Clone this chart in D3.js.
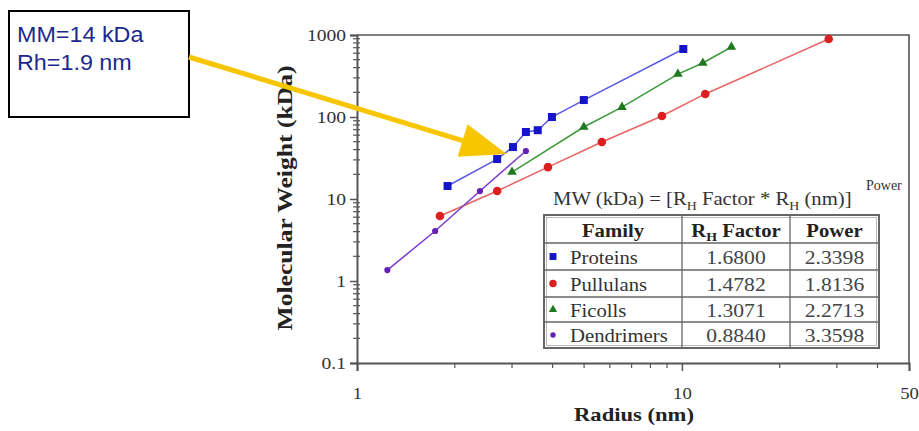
<!DOCTYPE html>
<html><head><meta charset="utf-8">
<script src="https://cdn.jsdelivr.net/npm/d3@7"></script>
<style>html,body{margin:0;padding:0;background:#fff;}svg{display:block;}</style>
</head><body>
<svg id="c" width="919" height="431"></svg>
<script>
// ---- data ----
const proteinsR  = [1.90, 2.70, 3.02, 3.31, 3.60, 3.98, 4.99, 10.1];
const proteinsMW = [14.4, 30.7, 43, 65.6, 69, 100, 161, 675];
const pullulansR  = [1.80, 2.70, 3.87, 5.67, 8.68, 11.8, 28.3];
const pullulansMW = [6.2, 12.5, 24.5, 49.5, 103, 191, 893];
const ficollsR  = [3.0, 4.99, 6.54, 9.72, 11.6, 14.2];
const ficollsMW = [21.3, 75.5, 132, 334, 456, 714];
const dendrimersR  = [1.24, 1.74, 2.39, 3.31];
const dendrimersMW = [1.36, 4.07, 12.5, 38.5];
const families  = ["Proteins", "Pullulans", "Ficolls", "Dendrimers"];
const rhFactors = ["1.6800", "1.4782", "1.3071", "0.8840"];
const powers    = ["2.3398", "1.8136", "2.2713", "3.3598"];
const yTickLabels = [0.1, 1, 10, 100, 1000];
const xTickLabels = [1, 10, 50];
const annotation = ["MM=14 kDa", "Rh=1.9 nm"];
const annotMW = 14, annotR = 1.9;

const svg = d3.select("#c");
const L = 357, R = 909, T = 35, B = 363;
const x = d3.scaleLog().domain([1, 50]).range([L, R]);
const y = d3.scaleLog().domain([0.1, 1000]).range([B, T]);
const axisCol = "#555";
const serif = "'Liberation Serif','Times New Roman',serif";
function stretch(sel, f) {
  sel.each(function () {
    const w = this.getComputedTextLength();
    d3.select(this).attr("textLength", w * f).attr("lengthAdjust", "spacingAndGlyphs");
  });
}

// frame
svg.append("path").attr("d", `M${L},${T}H${R}V${B}`).attr("fill","none")
  .attr("stroke", axisCol).attr("stroke-width", 1.6);

// y axis
const yMinor = [];
for (let e = -1; e < 3; e++) for (let k = 2; k <= 9; k++) yMinor.push(k * Math.pow(10, e));
const gy = svg.append("g").attr("transform", `translate(${L},0)`)
  .call(d3.axisLeft(y).tickValues(yTickLabels).tickFormat(d => d3.format("~g")(d)).tickSize(7).tickPadding(4));
gy.select(".domain").attr("stroke", axisCol).attr("stroke-width", 2);
gy.selectAll(".tick line").attr("stroke", axisCol).attr("stroke-width", 1.5);
gy.selectAll(".tick text").attr("font-family", serif).attr("font-size", 17).attr("fill", "#333").call(stretch, 1.15);
svg.append("g").selectAll("line").data(yMinor).join("line")
  .attr("x1", L - 4).attr("x2", L + 3).attr("y1", d => y(d)).attr("y2", d => y(d))
  .attr("stroke", axisCol).attr("stroke-width", 1.2);

// x axis
const xMinor = [2,3,4,5,6,7,8,9,20,30,40];
const gx = svg.append("g").attr("transform", `translate(0,${B})`)
  .call(d3.axisBottom(x).tickValues(xTickLabels).tickFormat(d => d3.format("~g")(d)).tickSize(8).tickPadding(16));
gx.select(".domain").attr("stroke", axisCol).attr("stroke-width", 2);
gx.selectAll(".tick line").attr("stroke", axisCol).attr("stroke-width", 1.5);
gx.selectAll(".tick text").attr("font-family", serif).attr("font-size", 17).attr("fill", "#333").call(stretch, 1.1);
svg.append("g").selectAll("line").data(xMinor).join("line")
  .attr("x1", d => x(d)).attr("x2", d => x(d)).attr("y1", B).attr("y2", B + 5)
  .attr("stroke", axisCol).attr("stroke-width", 1.2);

// axis titles
svg.append("text").attr("transform", `translate(292,198) rotate(-90)`)
  .attr("text-anchor","middle").attr("font-family", serif).attr("font-weight","bold")
  .attr("font-size", 20).attr("fill","#222").text("Molecular Weight (kDa)").call(stretch, 1.28);
svg.append("text").attr("x", 634).attr("y", 421).attr("text-anchor","middle")
  .attr("font-family", serif).attr("font-weight","bold").attr("font-size", 19)
  .attr("fill","#222").text("Radius (nm)").call(stretch, 1.19);

// series
const series = [
  {r: proteinsR, mw: proteinsMW, line:"#5a5ae6", fill:"#1414c8", sym:d3.symbolSquare, size:64},
  {r: pullulansR, mw: pullulansMW, line:"#e86464", fill:"#dc2020", sym:d3.symbolCircle, size:58},
  {r: ficollsR, mw: ficollsMW, line:"#3c9a3c", fill:"#1e7a1e", sym:d3.symbolTriangle, size:40},
  {r: dendrimersR, mw: dendrimersMW, line:"#7a3ad0", fill:"#6420b4", sym:d3.symbolCircle, size:30}
];
const line = d3.line().x(d => x(d[0])).y(d => y(d[1]));
series.forEach(s => {
  const pts = s.r.map((r, i) => [r, s.mw[i]]);
  svg.append("path").datum(pts).attr("d", line).attr("fill","none")
    .attr("stroke", s.line).attr("stroke-width", 1.5);
});
series.forEach(s => {
  const pts = s.r.map((r, i) => [r, s.mw[i]]);
  svg.append("g").selectAll("path").data(pts).join("path")
    .attr("transform", d => `translate(${x(d[0])},${y(d[1])})`)
    .attr("d", d3.symbol().type(s.sym).size(s.size)).attr("fill", s.fill);
});

// equation
const eq = svg.append("text").attr("x", 553).attr("y", 205).attr("font-family", serif)
  .attr("font-size", 18).attr("fill","#333");
eq.append("tspan").text("MW (kDa) = [R");
eq.append("tspan").attr("font-size", 12).attr("dy", 5).text("H");
eq.append("tspan").attr("dy", -5).text(" Factor * R");
eq.append("tspan").attr("font-size", 12).attr("dy", 5).text("H");
eq.append("tspan").attr("dy", -5).text(" (nm)]");
eq.call(stretch, 1.15);
svg.append("text").attr("x", 866).attr("y", 190).attr("font-family", serif)
  .attr("font-size", 14).attr("fill","#333").text("Power");

// table
const tL = 544, tR = 879, tT = 215, hdrB = 243;
const rowB = [270, 297, 322, 348];
const colX = [tL, 682, 790, tR];
const tg = svg.append("g");
tg.append("rect").attr("x", tL).attr("y", tT).attr("width", tR - tL).attr("height", rowB[3] - tT)
  .attr("fill","#fff").attr("stroke","#666").attr("stroke-width", 2);
tg.append("rect").attr("x", tL+2.5).attr("y", tT+2.5).attr("width", tR - tL - 5).attr("height", rowB[3] - tT - 5)
  .attr("fill","none").attr("stroke","#aaa").attr("stroke-width", 0.8);
[hdrB, ...rowB.slice(0,3)].forEach(yy => tg.append("line").attr("x1", tL).attr("x2", tR)
  .attr("y1", yy).attr("y2", yy).attr("stroke","#666").attr("stroke-width", 1.3));
[colX[1], colX[2]].forEach(xx => tg.append("line").attr("x1", xx).attr("x2", xx)
  .attr("y1", tT).attr("y2", rowB[3]).attr("stroke","#666").attr("stroke-width", 1.3));
const hdr = tg.append("g").attr("font-family", serif).attr("font-weight","bold").attr("font-size", 18).attr("fill","#222");
hdr.append("text").attr("x", (colX[0]+colX[1])/2).attr("y", 237).attr("text-anchor","middle").text("Family");
const h2 = hdr.append("text").attr("x", (colX[1]+colX[2])/2).attr("y", 237).attr("text-anchor","middle");
h2.append("tspan").text("R"); h2.append("tspan").attr("font-size", 12).attr("dy", 4).text("H");
h2.append("tspan").attr("dy", -4).text(" Factor");
hdr.append("text").attr("x", (colX[2]+colX[3])/2).attr("y", 237).attr("text-anchor","middle").text("Power");
hdr.selectAll("text").call(stretch, 1.15);
const rowTop = [hdrB, ...rowB.slice(0,3)];
families.forEach((f, i) => {
  const cy = (rowTop[i] + rowB[i]) / 2;
  const s = series[i];
  tg.append("path").attr("transform", `translate(553,${cy})`)
    .attr("d", d3.symbol().type(s.sym).size(s.size * 0.75)).attr("fill", s.fill);
  tg.append("text").attr("x", 570).attr("y", cy + 7).attr("font-family", serif).attr("font-size", 18)
    .attr("fill","#333").text(f).call(stretch, 1.15);
  tg.append("text").attr("x", (colX[1]+colX[2])/2).attr("y", cy + 7).attr("text-anchor","middle")
    .attr("font-family", serif).attr("font-size", 18).attr("fill","#444").text(rhFactors[i]).call(stretch, 1.2);
  tg.append("text").attr("x", (colX[2]+colX[3])/2).attr("y", cy + 7).attr("text-anchor","middle")
    .attr("font-family", serif).attr("font-size", 18).attr("fill","#444").text(powers[i]).call(stretch, 1.2);
});

// annotation box
svg.append("rect").attr("x", 9).attr("y", 11).attr("width", 180).attr("height", 106)
  .attr("fill","#fff").attr("stroke","#000").attr("stroke-width", 2);
annotation.forEach((t, i) => svg.append("text").attr("x", 17).attr("y", 42 + i * 28)
  .attr("font-family","'Liberation Sans',Arial,sans-serif").attr("font-size", 22)
  .attr("fill","#1a2a8c").text(t).call(stretch, 1.06));

// yellow arrow pointing at the protein point (14 kDa, 1.9 nm)
const tipX = x(annotR) + 59, tipY = y(annotMW) - 33;
const sx = 189, sy = 57;
const ang = Math.atan2(tipY - sy, tipX - sx);
const headLen = 46, headW = 17;
const bx = tipX - headLen * Math.cos(ang), by = tipY - headLen * Math.sin(ang);
svg.append("line").attr("x1", sx).attr("y1", sy).attr("x2", bx).attr("y2", by)
  .attr("stroke","#f7c600").attr("stroke-width", 5);
const px = -Math.sin(ang), py = Math.cos(ang);
svg.append("path").attr("d", `M${tipX},${tipY}L${bx + px*headW},${by + py*headW}L${bx - px*headW},${by - py*headW}Z`)
  .attr("fill","#f7c600");
</script>
</body></html>
